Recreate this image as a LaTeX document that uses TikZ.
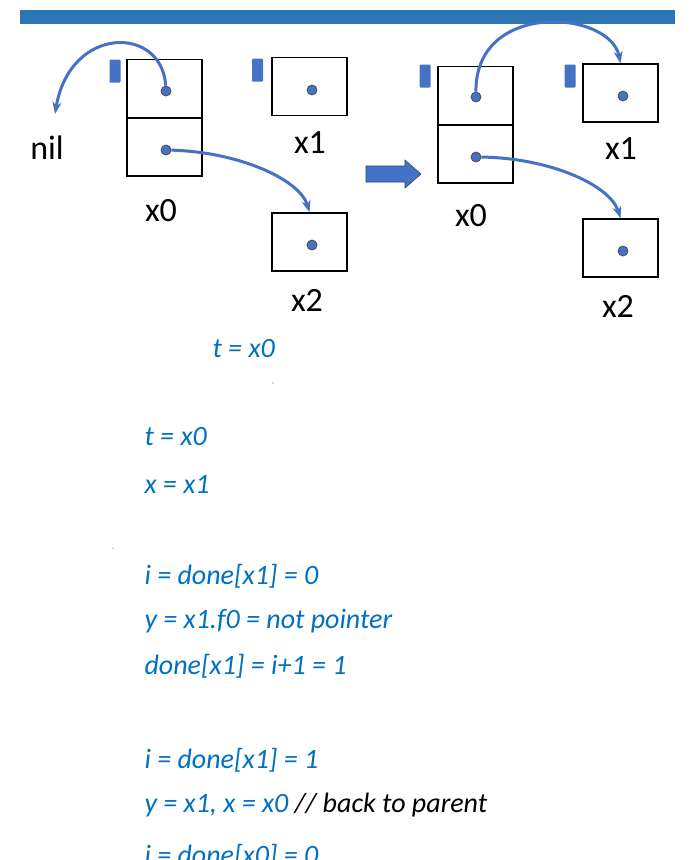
\documentclass[tikz,border=0pt]{standalone}
\usepackage{fontspec}
\setmainfont{Carlito}
\usetikzlibrary{arrows.meta}
\definecolor{band}{HTML}{2E75B6}
\definecolor{ptr}{HTML}{4472C4}
\definecolor{code}{HTML}{0070C0}
\begin{document}
\begin{tikzpicture}[
    x = 1pt, y = -1pt, % pixel grid
    cell/.style = {draw = black, line width = 1.5pt, minimum width = 75pt, minimum height = 58pt, inner sep = 0pt},
    dot/.style = {circle, draw = black!70, line width = 0.8pt, fill = ptr, inner sep = 0pt, minimum size = 10pt},
    tab/.style = {fill = ptr, rounded corners = 1pt, minimum width = 11pt, minimum height = 23pt, inner sep = 0pt},
    ref/.style = {-{Stealth[length=12pt,width=9pt]}, ptr, line width = 3pt},
    lbl/.style = {font = \fontsize{34}{36}\selectfont},
    line/.style = {anchor = west, text = code, font = \fontsize{28}{30}\selectfont\itshape}
    ]
    \useasboundingbox (0,0) rectangle (695,860);
    \fill[band] (20,10) rectangle (675,24);

    % before
    \node[cell] (a0) at (164.5,88.5) {};
    \node[cell] (b0) at (164.5,147) {};
    \node[tab] at (115,71) {};
    \node[dot] (pa) at (166,91) {};
    \node[dot] (pb) at (166,150) {};
    \node[cell] (a1) at (309.5,86.5) {};
    \node[tab] at (257.5,70) {};
    \node[dot] (p1) at (312,90) {};
    \node[cell] (a2) at (309.5,242) {};
    \node[dot] (p2) at (312,245) {};
    \node[lbl] (nil) at (47,148) {nil};
    \node[lbl] at (161,211) {x0};
    \node[lbl] at (310,143) {x1};
    \node[lbl] at (307,300) {x2};
    \coordinate (nilend) at (55,114);
    \draw[ref] (pa) .. controls (162,25) and (70,25) .. (nilend);
    \draw[ref] (pb) .. controls (240,152) and (300,180) .. (a2.north);

    % step arrow
    \fill[ptr, draw = ptr!60!black, line width = 0.6pt]
        (366,166) -- (405,166) -- (405,160) -- (421,174) -- (405,188) -- (405,182) -- (366,182) -- cycle;

    % after
    \node[cell] (c0) at (475.5,95.5) {};
    \node[cell] (d0) at (475.5,154) {};
    \node[tab] at (425,76) {};
    \node[dot] (qa) at (476,97) {};
    \node[dot] (qb) at (476,157) {};
    \node[cell] (c1) at (620.5,93) {};
    \node[tab] at (570,76) {};
    \node[dot] (q1) at (623,96) {};
    \node[cell] (c2) at (620.5,248) {};
    \node[dot] (q2) at (623,251) {};
    \node[lbl] at (471,216) {x0};
    \node[lbl] at (621,149) {x1};
    \node[lbl] at (618,306) {x2};
    \draw[ref] (qa) .. controls (475,0) and (610,10) .. (c1.north);
    \draw[ref] (qb) .. controls (550,158) and (610,185) .. (c2.north);

    % trace
    \node[line] at (209,349) {t = x0};
    \fill[code] (273,383) circle (0.6pt);
    \node[line] at (141,437) {t = x0};
    \node[line] at (141,484) {x = x1};
    \fill[black] (113,548) circle (0.5pt);
    \node[line] at (141,576) {i = done[x1] = 0};
    \node[line] at (141,621) {y = x1.f0 = not pointer};
    \node[line] at (141,666) {done[x1] = i+1 = 1};
    \node[line] at (141,760) {i = done[x1] = 1};
    \node[line] at (141,805) {y = x1, x = x0 \textcolor{black}{// back to parent}};
    \node[line] at (141,856) {i = done[x0] = 0};
\end{tikzpicture}
\end{document}
